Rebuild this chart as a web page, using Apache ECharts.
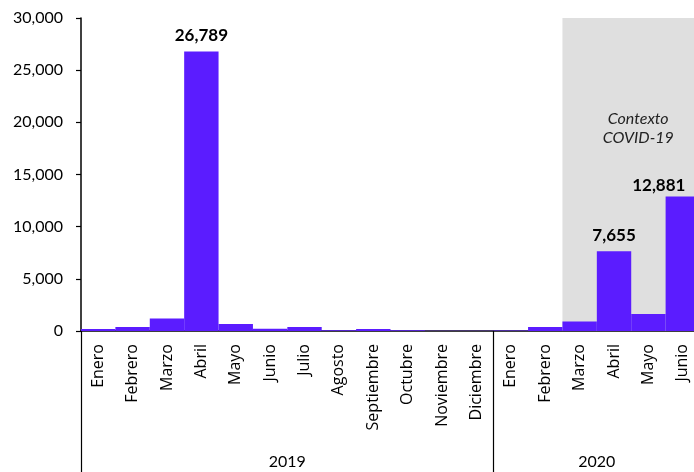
<!DOCTYPE html>
<html>
<head>
<meta charset="utf-8">
<script src="https://cdn.jsdelivr.net/npm/echarts@6/dist/echarts.min.js"></script>
<style>
  html, body { margin: 0; padding: 0; background: #fff; overflow: hidden; }
  /* the plot runs slightly past the right edge of the page, clipping the last bar */
  #chart { width: 700px; height: 472px; }
</style>
</head>
<body>
<div id="chart"></div>
<script>
// Monthly values, 2019 and first half of 2020
const months2019 = ['Enero', 'Febrero', 'Marzo', 'Abril', 'Mayo', 'Junio', 'Julio',
  'Agosto', 'Septiembre', 'Octubre', 'Noviembre', 'Diciembre'];
const months2020 = ['Enero', 'Febrero', 'Marzo', 'Abril', 'Mayo', 'Junio'];
const values2019 = [190, 380, 1210, 26789, 670, 220, 380, 60, 200, 70, 30, 30];
const values2020 = [40, 380, 920, 7655, 1630, 12881];
const years = ['2019', '2020'];
const yTicks = [0, 5000, 10000, 15000, 20000, 25000, 30000];
const covidText = ['Contexto', 'COVID-19'];
// indices (over the joined series) whose value is printed above the bar
const labelledIdx = [3, 15, 17];

const FONT = 'Lato';
const MONTH_FONT = 'Open Sans';
const categories = months2019.concat(months2020);
const values = values2019.concat(values2020);
const fmt = v => Number(v).toLocaleString('en-US');

// year bands on a continuous 0..N axis: [start, end) in month units
const yearBands = [
  { name: years[0], start: 0, end: months2019.length },
  { name: years[1], start: months2019.length, end: categories.length }
];
const covidStart = months2019.length + 2; // from Marzo 2020
const covidEnd = categories.length;

const barData = values.map((v, i) => {
  if (!labelledIdx.includes(i)) return v;
  const last = i === values.length - 1;
  return {
    value: v,
    label: {
      show: true,
      position: 'top',
      distance: last ? 3 : 7,
      offset: last ? [-24, 0] : [0, 0],
      formatter: p => fmt(p.value),
      fontFamily: FONT,
      fontWeight: 'bold',
      fontSize: 17,
      color: '#000'
    }
  };
});

const chart = echarts.init(document.getElementById('chart'), null, { renderer: 'canvas' });
chart.setOption({
  animation: false,
  backgroundColor: '#fff',
  grid: { left: 81, top: 18, right: 0, bottom: 141, containLabel: false },
  xAxis: [
    {
      type: 'category',
      data: categories,
      boundaryGap: true,
      axisLine: { show: true, lineStyle: { color: '#000', width: 1.5 } },
      axisTick: { show: false },
      axisLabel: {
        rotate: 90,
        interval: 0,
        margin: 13,
        fontFamily: MONTH_FONT,
        fontSize: 16,
        color: '#000'
      },
      splitLine: { show: false }
    },
    {
      type: 'value',
      min: 0,
      max: categories.length,
      position: 'bottom',
      offset: 141,
      axisLine: { show: false },
      axisTick: {
        show: true,
        inside: true,
        length: 141,
        customValues: [yearBands[0].start, yearBands[0].end, yearBands[1].end],
        lineStyle: { color: '#000', width: 1.2 }
      },
      axisLabel: {
        show: true,
        inside: true,
        margin: 2,
        customValues: yearBands.map(b => (b.start + b.end) / 2),
        formatter: v => {
          const b = yearBands.find(y => (y.start + y.end) / 2 === v);
          return b ? b.name : '';
        },
        fontFamily: FONT,
        fontSize: 16,
        color: '#000'
      },
      splitLine: { show: false }
    }
  ],
  yAxis: {
    type: 'value',
    min: yTicks[0],
    max: yTicks[yTicks.length - 1],
    interval: yTicks[1] - yTicks[0],
    axisLine: { show: true, lineStyle: { color: '#000', width: 1.5 } },
    axisTick: { show: true, inside: false, length: 5, lineStyle: { color: '#000', width: 1.2 } },
    axisLabel: {
      margin: 18,
      formatter: v => fmt(v),
      fontFamily: FONT,
      fontSize: 16,
      color: '#000'
    },
    splitLine: { show: false }
  },
  series: [
    {
      // shaded COVID-19 period
      type: 'line',
      xAxisIndex: 1,
      yAxisIndex: 0,
      data: [],
      z: 1,
      silent: true,
      markArea: {
        silent: true,
        itemStyle: { color: '#dfdfdf' },
        label: {
          show: true,
          position: 'inside',
          offset: [7, -46],
          formatter: covidText.join('\n'),
          fontFamily: FONT,
          fontStyle: 'italic',
          fontSize: 16,
          lineHeight: 19,
          color: '#222'
        },
        data: [[
          { xAxis: covidStart, yAxis: yTicks[yTicks.length - 1] },
          { xAxis: covidEnd, yAxis: yTicks[0] }
        ]]
      }
    },
    {
      type: 'bar',
      xAxisIndex: 0,
      yAxisIndex: 0,
      z: 3,
      barCategoryGap: '0%',
      itemStyle: { color: '#5b1cff' },
      data: barData
    }
  ]
});
</script>
</body>
</html>
